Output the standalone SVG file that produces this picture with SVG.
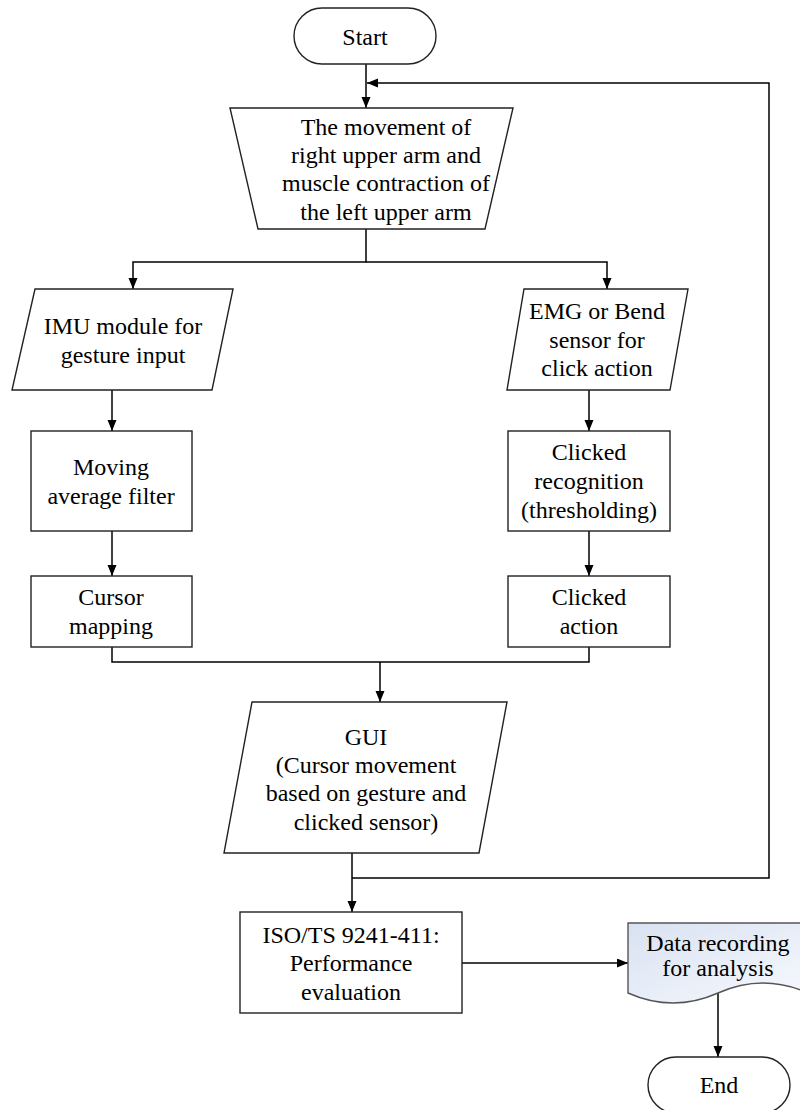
<svg xmlns="http://www.w3.org/2000/svg" width="800" height="1110" viewBox="0 0 800 1110">
<defs>
<marker id="arr" markerUnits="userSpaceOnUse" markerWidth="12" markerHeight="10" refX="11" refY="4.5" orient="auto">
<path d="M0,0 L11,4.5 L0,9 z" fill="#000"/>
</marker>
<linearGradient id="docfill" x1="0" y1="0" x2="1" y2="1">
<stop offset="0" stop-color="#d9e2f2"/>
<stop offset="1" stop-color="#f7f9fd"/>
</linearGradient>
<style>
.s{fill:#fff;stroke:#222;stroke-width:1.4}
.t{font-family:"Liberation Serif","Times New Roman",serif;font-size:24px;fill:#000;text-anchor:middle}
.c{fill:none;stroke:#000;stroke-width:1.5}
</style>
</defs>
<rect width="800" height="1110" fill="#fff"/>
<g id="connectors">
<path class="c" d="M366,64 V108" marker-end="url(#arr)"/>
<path class="c" d="M352,878 H769 V83 H367" marker-end="url(#arr)"/>
<path class="c" d="M366,229 V262 H133 V289" marker-end="url(#arr)"/>
<path class="c" d="M366,262 H607 V289" marker-end="url(#arr)"/>
<path class="c" d="M112,390 V431" marker-end="url(#arr)"/>
<path class="c" d="M112,531 V576" marker-end="url(#arr)"/>
<path class="c" d="M589,390 V431" marker-end="url(#arr)"/>
<path class="c" d="M589,531 V576" marker-end="url(#arr)"/>
<path class="c" d="M112,647 V662 H589 V647"/>
<path class="c" d="M380,662 V702" marker-end="url(#arr)"/>
<path class="c" d="M352,853 V912" marker-end="url(#arr)"/>
<path class="c" d="M462,963 H628" marker-end="url(#arr)"/>
<path class="c" d="M718,993 V1057" marker-end="url(#arr)"/>
</g>
<g id="start">
<rect class="s" x="294" y="8" width="142" height="56" rx="28" ry="28"/>
<text class="t" x="365" y="45">Start</text>
</g>
<g id="input">
<path class="s" d="M230,108 H513 L485,229 H258 Z"/>
<text class="t" x="386" y="135">The movement of</text>
<text class="t" x="386" y="163">right upper arm and</text>
<text class="t" x="386" y="191">muscle contraction of</text>
<text class="t" x="386" y="220">the left upper arm</text>
</g>
<g id="imu">
<path class="s" d="M35,289 H233 L212,390 H12 Z"/>
<text class="t" x="123" y="334">IMU module for</text>
<text class="t" x="123" y="363">gesture input</text>
</g>
<g id="emg">
<path class="s" d="M524,289 H688 L670,390 H507 Z"/>
<text class="t" x="597" y="319">EMG or Bend</text>
<text class="t" x="597" y="348">sensor for</text>
<text class="t" x="597" y="376">click action</text>
</g>
<g id="filter">
<rect class="s" x="31" y="431" width="161" height="100"/>
<text class="t" x="111" y="475">Moving</text>
<text class="t" x="111" y="504">average filter</text>
</g>
<g id="recognition">
<rect class="s" x="508" y="431" width="162" height="100"/>
<text class="t" x="589" y="460">Clicked</text>
<text class="t" x="589" y="489">recognition</text>
<text class="t" x="589" y="518">(thresholding)</text>
</g>
<g id="cursor">
<rect class="s" x="31" y="576" width="161" height="71"/>
<text class="t" x="111" y="605">Cursor</text>
<text class="t" x="111" y="634">mapping</text>
</g>
<g id="clicked">
<rect class="s" x="508" y="576" width="162" height="71"/>
<text class="t" x="589" y="605">Clicked</text>
<text class="t" x="589" y="634">action</text>
</g>
<g id="gui">
<path class="s" d="M252,702 H507 L479,853 H224 Z"/>
<text class="t" x="366" y="745">GUI</text>
<text class="t" x="366" y="773">(Cursor movement</text>
<text class="t" x="366" y="801">based on gesture and</text>
<text class="t" x="366" y="830">clicked sensor)</text>
</g>
<g id="iso">
<rect class="s" x="240" y="912" width="222" height="101"/>
<text class="t" x="351" y="943">ISO/TS 9241-411:</text>
<text class="t" x="351" y="971">Performance</text>
<text class="t" x="351" y="1000">evaluation</text>
</g>
<g id="data">
<path d="M628,923 H808 V993 Q763,973 718,993 Q673,1013 628,993 Z" fill="url(#docfill)" stroke="#555" stroke-width="1.4"/>
<text class="t" x="718" y="951">Data recording</text>
<text class="t" x="718" y="976">for analysis</text>
</g>
<g id="end">
<rect class="s" x="648" y="1057" width="142" height="56" rx="28" ry="28"/>
<text class="t" x="719" y="1093">End</text>
</g>
</svg>
